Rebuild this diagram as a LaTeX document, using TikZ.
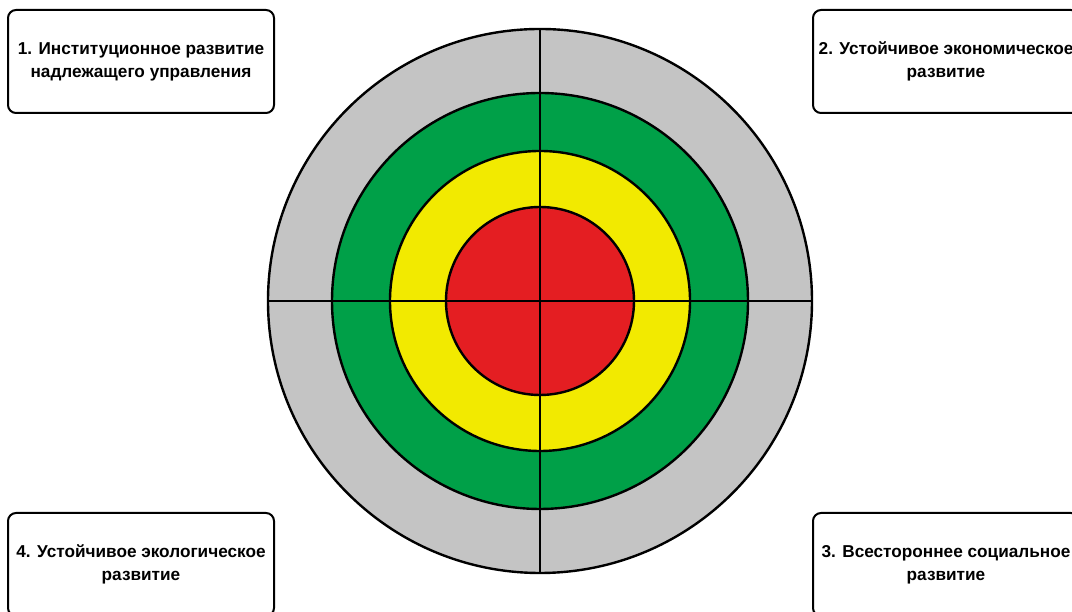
\documentclass[tikz,border=0pt]{standalone}
\usepackage{fontspec}
\setmainfont{Liberation Sans}
\usepackage{xcolor}
\usepackage{tikz}
\usetikzlibrary{positioning}
\definecolor{ringgray}{RGB}{196,196,196}
\definecolor{ringgreen}{RGB}{0,160,72}
\definecolor{ringyellow}{RGB}{242,234,0}
\definecolor{ringred}{RGB}{228,30,34}
\tikzset{box/.style={draw,line width=2pt,rounded corners=8pt,minimum width=266pt,minimum height=103pt,align=center,inner sep=0pt,font=\bfseries\fontsize{17.2}{23}\selectfont}}

\begin{document}
\begin{tikzpicture}[x=1pt,y=1pt]
\useasboundingbox (0,0) rectangle (1072,612);
\coordinate (c) at (540,311);
\draw[line width=2.4pt,fill=ringgray](c) circle (272pt);
\draw[line width=2.4pt,fill=ringgreen](c) circle (208pt);
\draw[line width=2.4pt,fill=ringyellow](c) circle (150pt);
\draw[line width=2.4pt,fill=ringred](c) circle (94pt);
\coordinate (n) at (540,583);
\coordinate (s) at (540,39);
\coordinate (w) at (268,311);
\coordinate (e) at (812,311);
\draw[line width=2.8pt](n)--(s);
\draw[line width=2.8pt](w)--(e);
\node[box](inst) at (141,550.5){1. Институционное развитие\\надлежащего управления};
\node[box](econ) at (946,550.5){2. Устойчивое экономическое\\развитие};
\node[box](soc) at (946,47.5){3. Всестороннее социальное\\развитие};
\node[box](eco) at (141,47.5){4. Устойчивое экологическое\\развитие};
\end{tikzpicture}
\end{document}
